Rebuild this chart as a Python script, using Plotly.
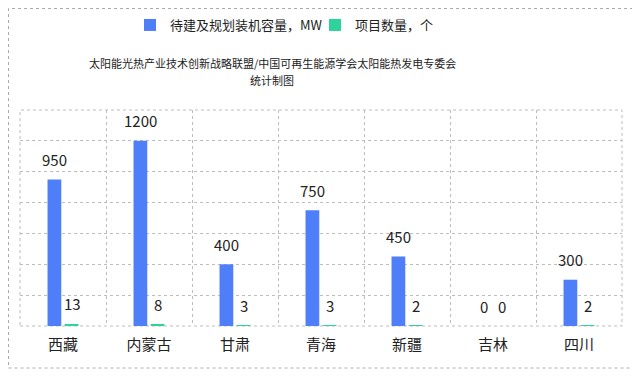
import plotly.graph_objects as go

categories = ["西藏", "内蒙古", "甘肃", "青海", "新疆", "吉林", "四川"]
capacity_mw = [950, 1200, 400, 750, 450, 0, 300]
project_count = [13, 8, 3, 3, 2, 0, 2]
series_names = ["待建及规划装机容量，MW", "项目数量，个"]
subtitle_lines = ["太阳能光热产业技术创新战略联盟/中国可再生能源学会太阳能热发电专委会", "统计制图"]

# page body has an 8px margin; work in screen pixels and convert
OFF = 8
W, H = 632, 372
ML, MT = 20 - OFF, 110 - OFF
PW, PH = 602, 216
MR, MB = W - ML - PW, H - MT - PH

def px_x(p):
    return (p - OFF - ML) / PW

def px_y(p):
    return (H - MB - (p - OFF)) / PH

FONT = "Noto Sans CJK SC, Microsoft YaHei, sans-serif"
GRID = "#bdbdbd"
TXT = "#222222"
colors = ["#4F7FF8", "#2ED39B"]
series = [capacity_mw, project_count]
legend_ids = ["legend", "legend2"]
legend_left = [130, 315]

fig = go.Figure()
for name, vals, col, lg in zip(series_names, series, colors, legend_ids):
    fig.add_trace(go.Bar(x=categories, y=vals, name=name, legend=lg,
                         marker=dict(color=col, line=dict(width=0))))

annotations = []
for i, vals in enumerate(series):
    for cat, v in zip(categories, vals):
        annotations.append(dict(x=cat, y=v, xref="x", yref="y", text=str(v),
                                showarrow=False, xshift=(-9 if i == 0 else 9),
                                yshift=20, yanchor="middle",
                                font=dict(size=15, color=TXT)))
for j, line in enumerate(subtitle_lines):
    annotations.append(dict(text=line, xref="paper", yref="paper",
                            x=px_x(272), y=px_y(63 + 17 * j),
                            xanchor="center", yanchor="middle", showarrow=False,
                            font=dict(size=11, color=TXT)))

legend_style = dict(orientation="h", xanchor="left", yanchor="middle",
                    y=px_y(25), font=dict(size=13, color=TXT),
                    itemwidth=30, bgcolor="rgba(0,0,0,0)")

fig.update_layout(
    width=W, height=H,
    margin=dict(l=ML, r=MR, t=MT, b=MB, autoexpand=False),
    paper_bgcolor="white", plot_bgcolor="white",
    font=dict(family=FONT, color=TXT),
    barmode="group", bargap=0.6, bargroupgap=0.2,
    showlegend=True,
    legend=dict(legend_style, x=px_x(legend_left[0])),
    legend2=dict(legend_style, x=px_x(legend_left[1])),
    xaxis=dict(type="category", range=[-0.5, 6.5], tickson="boundaries",
               showgrid=True, griddash="dot", gridcolor=GRID, gridwidth=1,
               ticks="", ticklabelstandoff=8,
               tickfont=dict(size=15, color=TXT),
               showline=False, zeroline=False),
    yaxis=dict(range=[0, 1400], dtick=200, showticklabels=False,
               showgrid=True, griddash="dot", gridcolor=GRID, gridwidth=1,
               zeroline=False, showline=False, ticks=""),
    annotations=annotations,
    shapes=[
        dict(type="rect", xref="paper", yref="paper",
             x0=px_x(OFF + 0.5), x1=px_x(636), y0=px_y(368), y1=px_y(OFF + 0.5),
             line=dict(color="#aaaaaa", width=1, dash="dot"), layer="below"),
        dict(type="rect", xref="paper", yref="paper",
             x0=0, x1=1, y0=0, y1=1,
             line=dict(color=GRID, width=1, dash="dot"), layer="below"),
    ],
)

fig.write_html("out.html")
